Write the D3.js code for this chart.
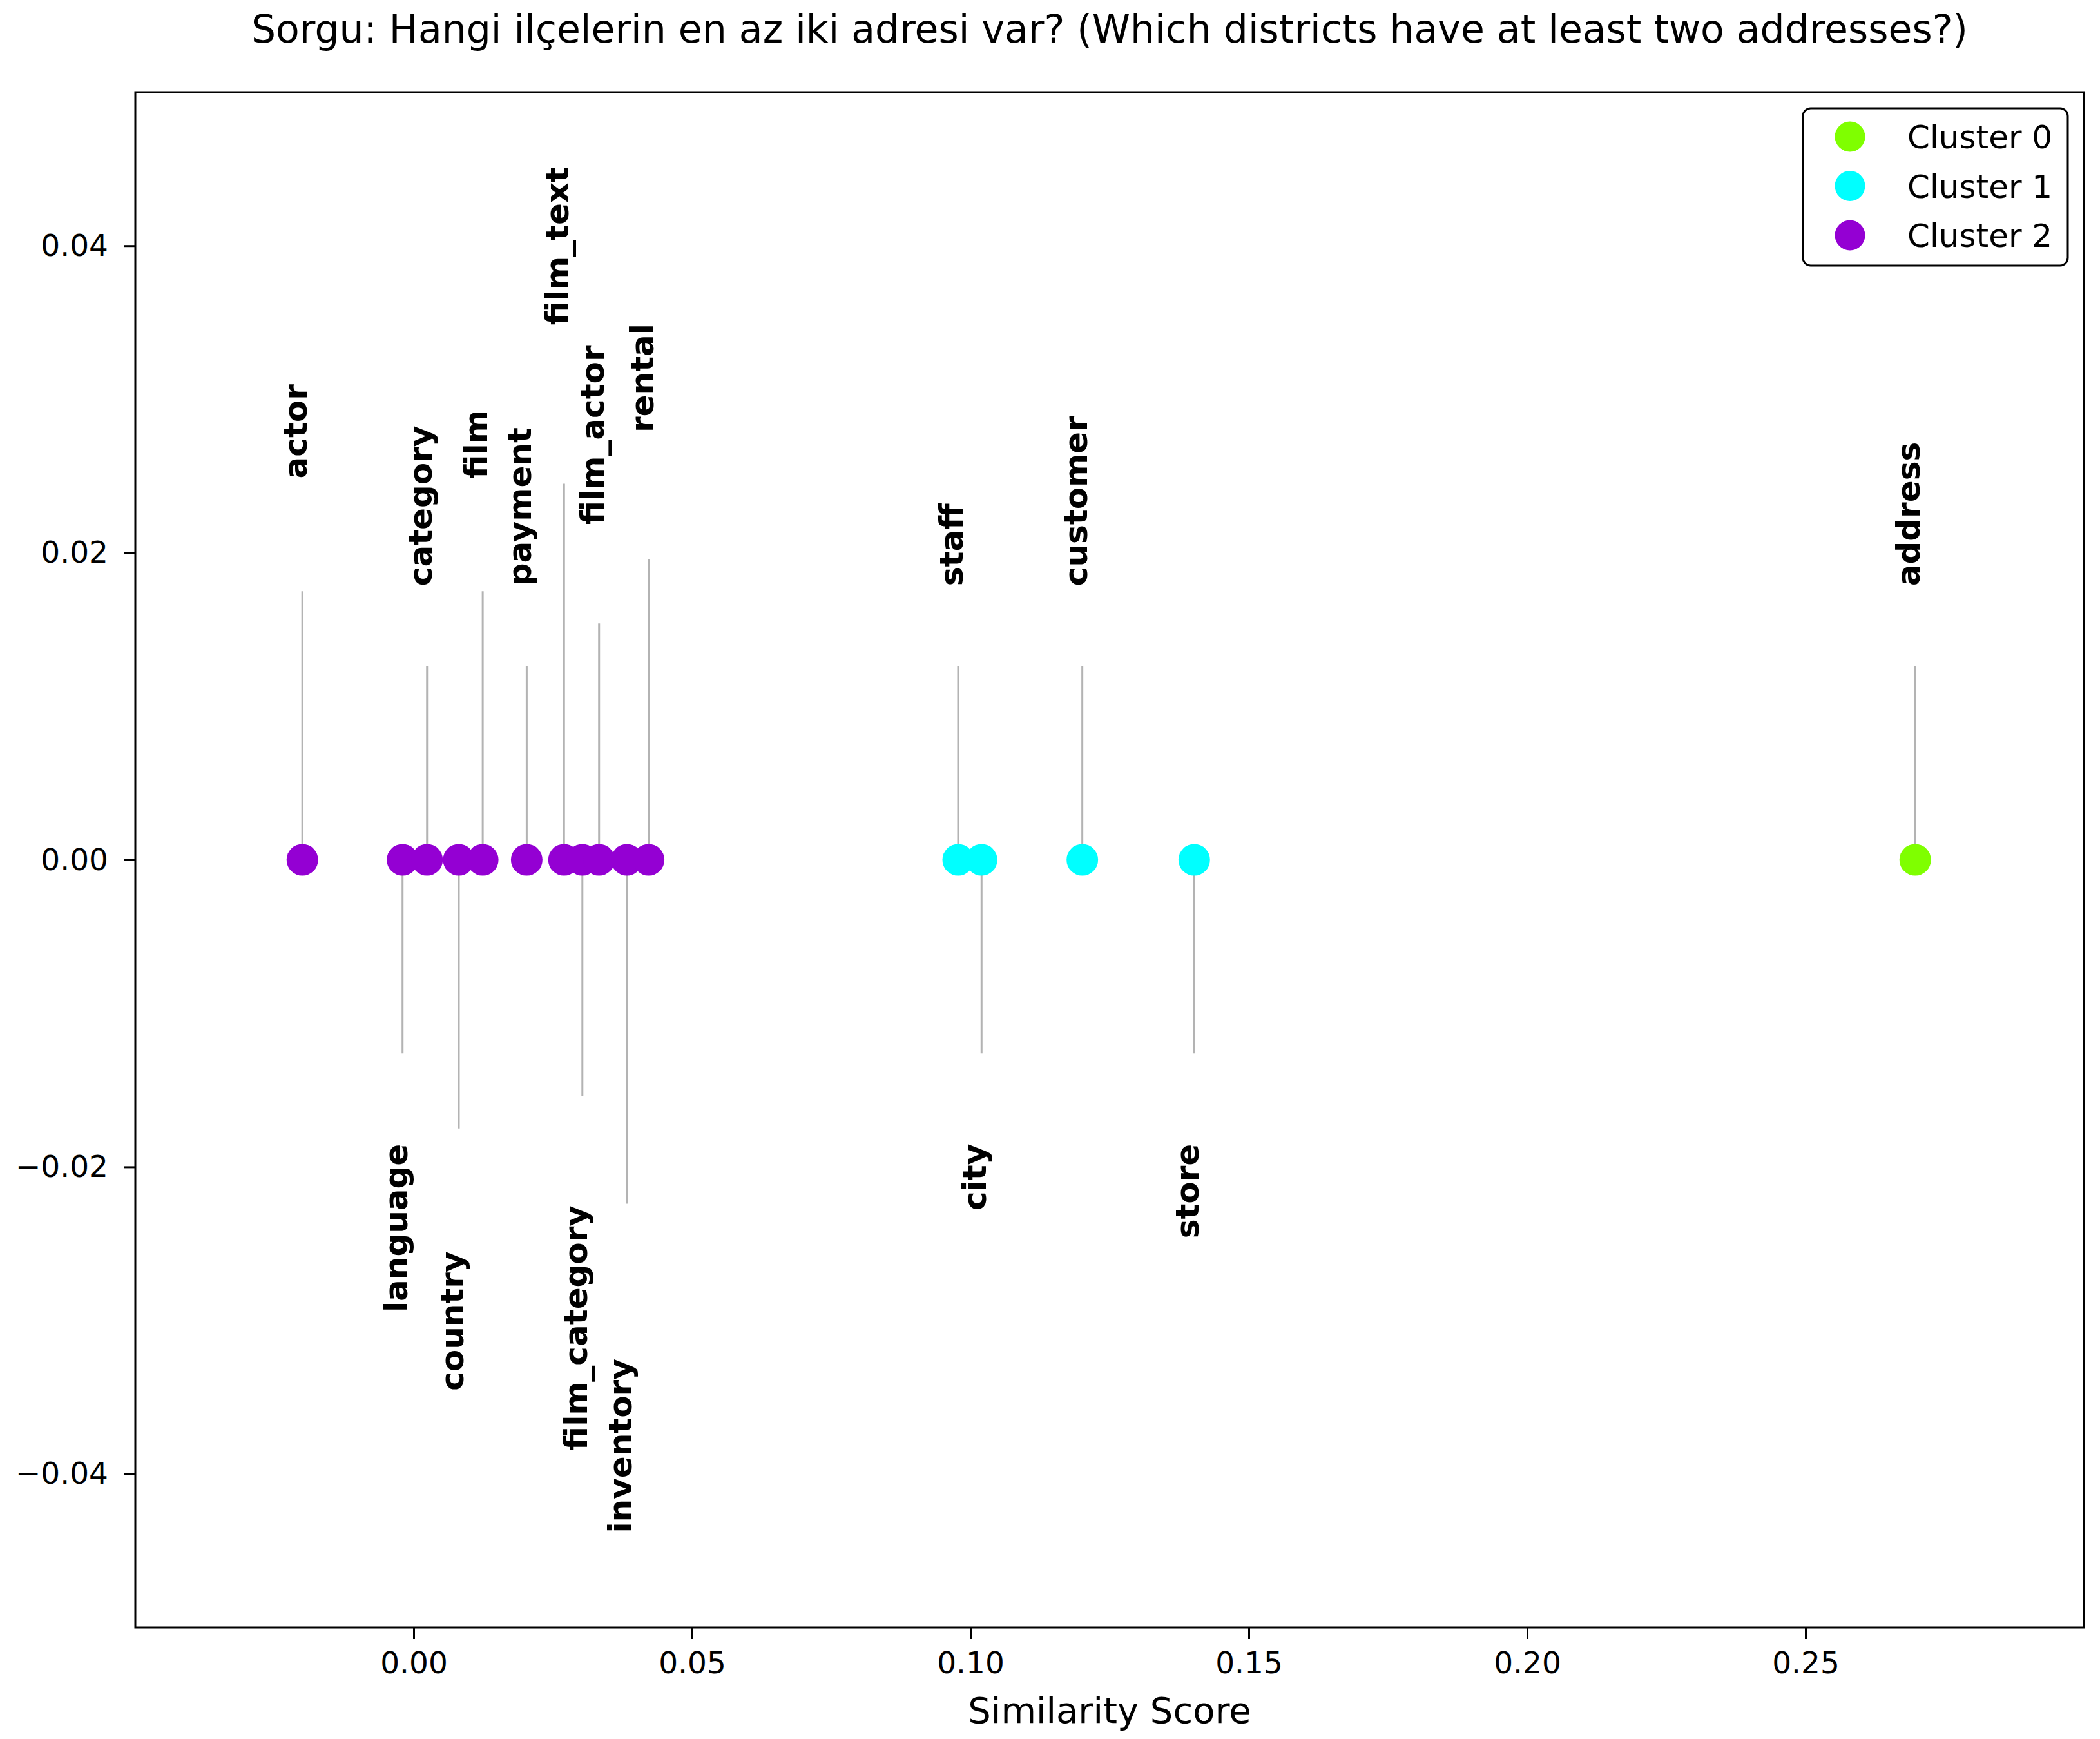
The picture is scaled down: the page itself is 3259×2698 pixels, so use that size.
<!DOCTYPE html>
<html>

<head>
    <meta charset="utf-8">
    <style>
        body {
            margin: 0;
            background: #fff;
        }

        svg {
            font-family: 'DejaVu Sans', sans-serif;
        }

        .axis .domain {
            display: none;
        }

        .axis .tick line {
            stroke: #000;
            stroke-width: 3px;
        }

        .axis .tick text {
            font-size: 47px;
            fill: #000;
        }

        .label {
            font-size: 50px;
            font-weight: bold;
            fill: #000;
        }
    </style>
</head>

<body>
    <svg width="3259" height="2698"></svg>
</body>

<script src="https://d3js.org/d3.v7.min.js"></script>

<script>
    // table names, their similarity score, the cluster they fell into
    let tables = ["actor", "language", "category", "country", "film", "payment", "film_text",
        "film_category", "film_actor", "inventory", "rental", "staff", "city", "customer", "store", "address"]
    let scores = [-0.0200, -0.0020, 0.0024, 0.0081, 0.0124, 0.0203, 0.0270,
        0.0303, 0.0333, 0.0383, 0.0422, 0.0978, 0.1020, 0.1201, 0.1402, 0.2697]
    let clusters = [2, 2, 2, 2, 2, 2, 2, 2, 2, 2, 2, 1, 1, 1, 1, 0]
    // where each label sits on the y axis (the stem goes 70% of the way)
    let labelY = [0.025, -0.018, 0.018, -0.025, 0.025, 0.018, 0.035,
        -0.022, 0.022, -0.032, 0.028, 0.018, -0.018, 0.018, -0.018, 0.018]

    let clusterNames = ["Cluster 0", "Cluster 1", "Cluster 2"]
    let clusterColors = ["#7fff00", "#00ffff", "#9400d3"]

    let xTicks = [0, 0.05, 0.10, 0.15, 0.20, 0.25]
    let yTicks = [-0.04, -0.02, 0, 0.02, 0.04]

    let title = "Sorgu: Hangi ilçelerin en az iki adresi var? (Which districts have at least two addresses?)"
    let xLabel = "Similarity Score"

    let width = 3259
    let height = 2698
    let margin = { top: 143, right: 25, bottom: 173, left: 210 }

    let svg = d3.select("svg")

    let data = tables.map(function (t, i) {
        return { name: t, score: scores[i], cluster: clusters[i], ly: labelY[i] }
    })

    let x = d3.scaleLinear()
        .domain([-0.05, 0.30])
        .range([margin.left, width - margin.right])

    let y = d3.scaleLinear()
        .domain([-0.05, 0.05])
        .range([height - margin.bottom, margin.top])

    let xAxisSettings = d3.axisBottom(x)
        .tickValues(xTicks)
        .tickFormat(d3.format(".2f"))
        .tickSize(18)
        .tickPadding(20)

    let yAxisSettings = d3.axisLeft(y)
        .tickValues(yTicks)
        .tickFormat(d3.format(".2f"))
        .tickSize(18)
        .tickPadding(24)

    svg.append("g")
        .attr("class", "x axis")
        .attr("transform", `translate(0,${height - margin.bottom})`)
        .call(xAxisSettings)
        .attr("font-family", null)
        .attr("font-size", null)

    svg.append("g")
        .attr("class", "y axis")
        .attr("transform", `translate(${margin.left},0)`)
        .call(yAxisSettings)
        .attr("font-family", null)
        .attr("font-size", null)

    // stems from the point to 70% of the label position
    svg.append("g")
        .selectAll("line")
        .data(data)
        .join("line")
        .attr("x1", d => x(d.score))
        .attr("x2", d => x(d.score))
        .attr("y1", y(0))
        .attr("y2", d => y(d.ly * 0.7))
        .style("stroke", "#b3b3b3")
        .style("stroke-width", "3px")

    svg.append("g")
        .selectAll("circle")
        .data(data)
        .join("circle")
        .attr("cx", d => x(d.score))
        .attr("cy", y(0))
        .attr("r", 24.5)
        .style("fill", d => clusterColors[d.cluster])

    // rotated labels; up ones start at the label y, down ones end there
    svg.append("g")
        .selectAll("text")
        .data(data)
        .join("text")
        .attr("class", "label")
        .attr("transform", d => `translate(${x(d.score)},${y(d.ly)}) rotate(-90)`)
        .attr("dy", "0.14em")
        .attr("dx", d => d.ly > 0 ? -4 : -12)
        .attr("text-anchor", d => d.ly > 0 ? "start" : "end")
        .text(d => d.name)

    // plot frame
    svg.append("rect")
        .attr("x", margin.left)
        .attr("y", margin.top)
        .attr("width", width - margin.left - margin.right)
        .attr("height", height - margin.top - margin.bottom)
        .style("fill", "none")
        .style("stroke", "#000")
        .style("stroke-width", "3px")

    // legend, upper right
    let legend = svg.append("g")
        .attr("transform", `translate(${width - margin.right - 25 - 411},${margin.top + 25})`)

    legend.append("rect")
        .attr("width", 411)
        .attr("height", 244)
        .attr("rx", 12)
        .style("fill", "#fff")
        .style("stroke", "#000")
        .style("stroke-width", "3px")

    let items = legend.selectAll(".item")
        .data(clusterNames)
        .join("g")
        .attr("class", "item")
        .attr("transform", (d, i) => `translate(0,${44 + i * 76.5})`)

    items.append("circle")
        .attr("cx", 73)
        .attr("r", 23.5)
        .style("fill", (d, i) => clusterColors[i])

    items.append("text")
        .attr("x", 162)
        .attr("dy", "0.36em")
        .style("font-size", "50px")
        .text(d => d)

    svg.append("text")
        .attr("x", (margin.left + width - margin.right) / 2)
        .attr("y", 66)
        .attr("text-anchor", "middle")
        .style("font-size", "60px")
        .text(title)

    svg.append("text")
        .attr("x", (margin.left + width - margin.right) / 2)
        .attr("y", 2673)
        .attr("text-anchor", "middle")
        .style("font-size", "56px")
        .text(xLabel)
</script>

</html>
